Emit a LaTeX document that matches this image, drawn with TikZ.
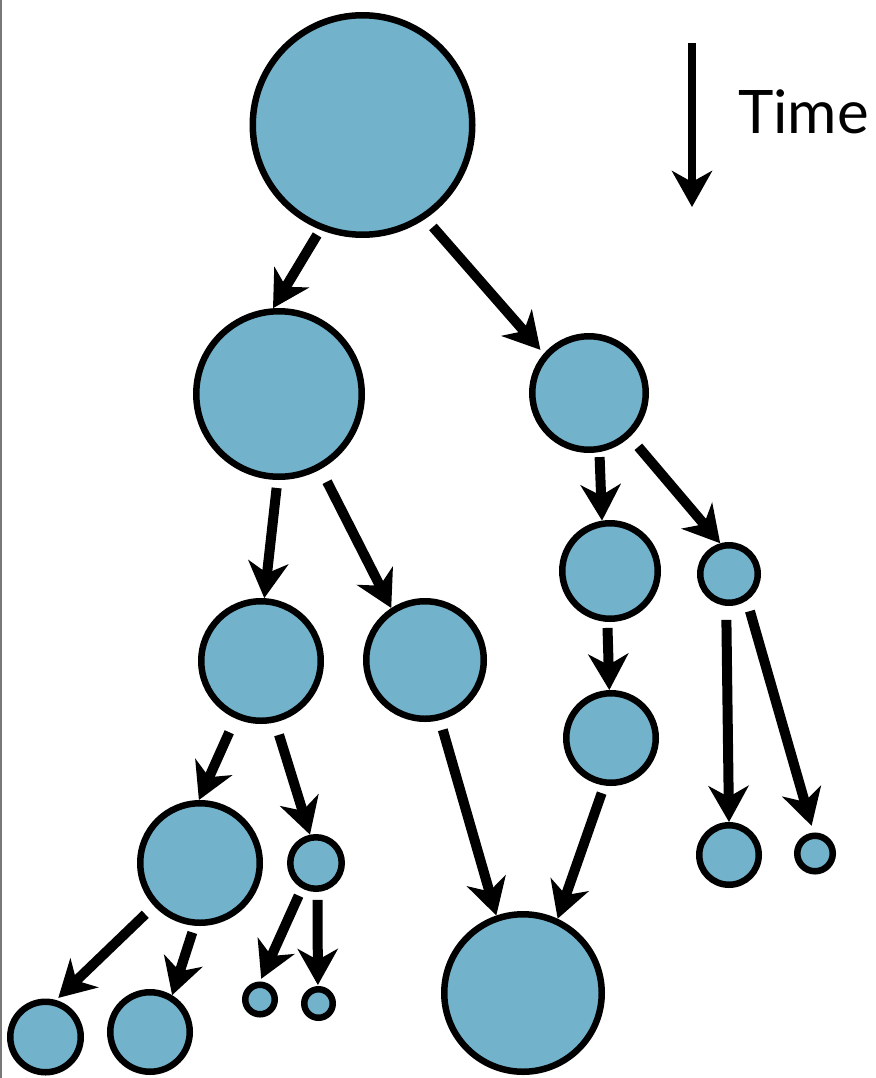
\documentclass[tikz,border=0pt]{standalone}
\usepackage{fontspec}
\setsansfont{Lato}
\usetikzlibrary{arrows.meta}
\definecolor{bubfill}{RGB}{114,178,202}
\definecolor{edgegray}{RGB}{120,120,120}
\tikzset{
  bub/.style={circle, draw=black, line width=6.5pt, fill=bubfill, inner sep=0pt, minimum size={2*#1-6.5pt}},
  link/.style={line width=10pt, -{Stealth[length=36pt,width=40pt,inset=11pt]}},
}
\begin{document}
\begin{tikzpicture}[x=1pt,y=-1pt]
  \useasboundingbox (0,0) rectangle (875,1078);
  \fill[white] (0,0) rectangle (875,1078);
  \draw[edgegray, line width=2pt] (1,0) -- (1,1078);

  % bubbles
  \node[bub=113pt] (root) at (362.5,125) {};
  \node[bub=86pt]  (a) at (279,394) {};
  \node[bub=60pt]  (b) at (589,393) {};
  \node[bub=63pt]  (c) at (261,661) {};
  \node[bub=62pt]  (d) at (425,660) {};
  \node[bub=51pt]  (e) at (610,571) {};
  \node[bub=32pt]  (f) at (729,574) {};
  \node[bub=48pt]  (g) at (611,738) {};
  \node[bub=63pt]  (h) at (200,863) {};
  \node[bub=29pt]  (i) at (316,863) {};
  \node[bub=82pt]  (j) at (523,993) {};
  \node[bub=33pt]  (k) at (729,855) {};
  \node[bub=21pt]  (l) at (815,853.5) {};
  \node[bub=38.5pt] (m) at (45.5,1037) {};
  \node[bub=43pt]  (n) at (150,1032) {};
  \node[bub=18pt]  (o) at (260,999.5) {};
  \node[bub=17.5pt] (p) at (318.5,1003.5) {};

  % links
  \draw[link, shorten <=6pt]  (root.-112) -- (a.94.8);
  \draw[link, shorten <=11pt, shorten >=5pt] (root.-56) -- (b.139.3);
  \draw[link, shorten <=8pt]  (a.-91.8) -- (c.87);
  \draw[link, shorten <=14pt] (a.-61.4) -- (d.123.4);
  \draw[link, shorten <=5pt]  (b.-80.2) -- (e.99.3);
  \draw[link, shorten <=13pt] (b.-47.8) -- (f.106.2);
  \draw[link, shorten <=6pt]  (e.-93) -- (g.92.3);
  \draw[link, shorten <=14pt] (f.-95) -- (k.90);
  \draw[link, shorten <=11pt, shorten >=7pt] (f.-56.3) -- (l.94);
  \draw[link, shorten <=15pt] (c.-114.9) -- (h.91);
  \draw[link, shorten <=13pt] (c.-77.1) -- (i.102);
  \draw[link, shorten <=10pt] (d.-76.3) -- (j.109.7);
  \draw[link, shorten <=8pt]  (g.-98.1) -- (j.65.9);
  \draw[link, shorten <=12pt, shorten >=3pt] (h.-137.7) -- (m.74);
  \draw[link, shorten <=7pt]  (h.-95.7) -- (n.59.3);
  \draw[link, shorten <=8pt, shorten >=3pt] (i.-119.4) -- (o.90);
  \draw[link, shorten <=8pt, shorten >=1pt] (i.-87) -- (p.92);

  % time axis
  \coordinate (tstart) at (692,43);
  \coordinate (tend) at (692,207);
  \draw[link, line width=8.5pt] (tstart) -- (tend);
  \node[anchor=base west, inner sep=0pt, font=\sffamily\fontsize{60pt}{62pt}\selectfont] (timelabel) at (738,134) {Time};
\end{tikzpicture}
\end{document}
